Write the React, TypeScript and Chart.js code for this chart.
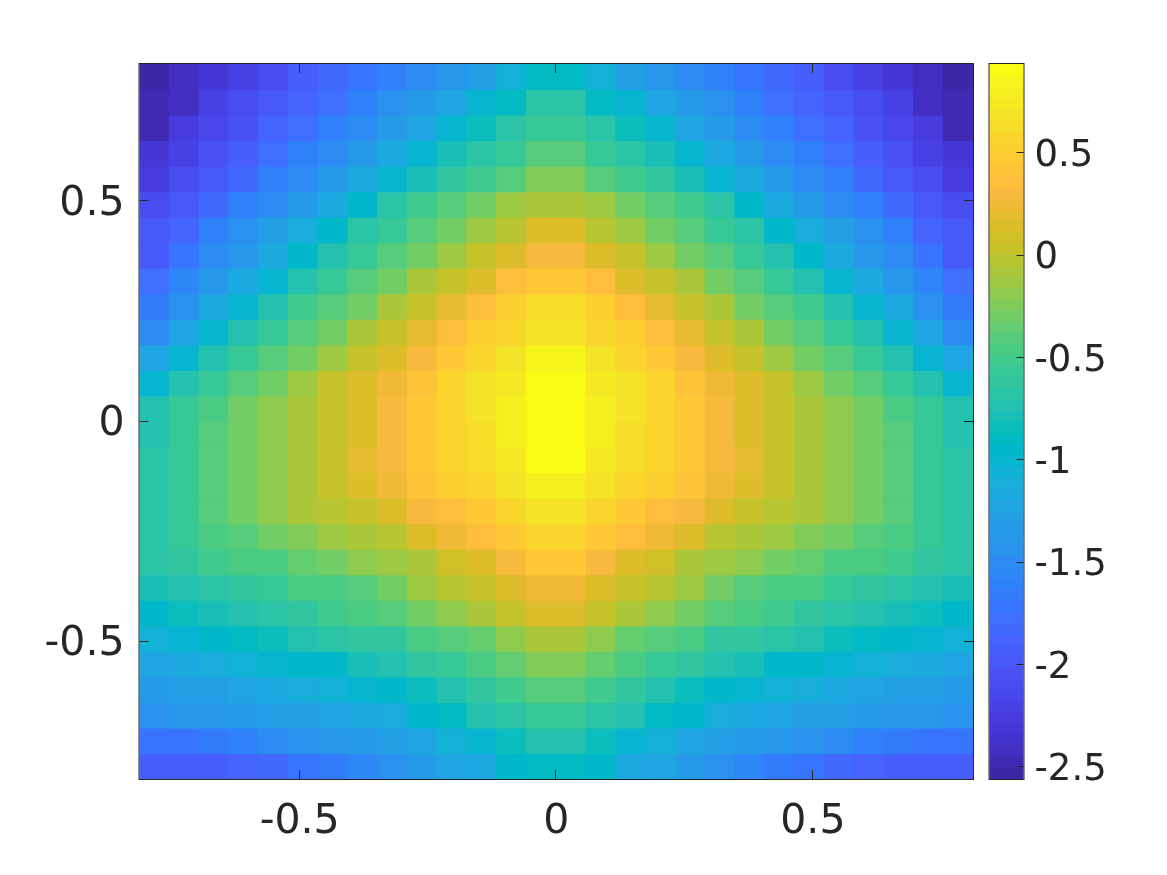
import React, { useEffect, useRef } from "react";
import { Chart, registerables } from "chart.js";

Chart.register(...registerables);

const FONT = "'DejaVu Sans'";
const TEXT = "#262626";

const xTickValues = [-0.5, 0, 0.5];
const yTickValues = [-0.5, 0, 0.5];
const colorbarTickValues = [-2.5, -2, -1.5, -1, -0.5, 0, 0.5];
const colorMin = -2.557;
const colorMax = 0.936;
const cellHalf = 0.029;

const xCenters = [-0.783,-0.725,-0.667,-0.609,-0.551,-0.493,-0.435,-0.377,-0.319,-0.261,-0.203,-0.145,-0.087,-0.029,0.029,0.087,0.145,0.203,0.261,0.319,0.377,0.435,0.493,0.551,0.609,0.667,0.725,0.783];
const yCenters = [0.783,0.725,0.667,0.609,0.551,0.493,0.435,0.377,0.319,0.261,0.203,0.145,0.087,0.029,-0.029,-0.087,-0.145,-0.203,-0.261,-0.319,-0.377,-0.435,-0.493,-0.551,-0.609,-0.667,-0.725,-0.783];

const row01 = [-2.55,-2.42,-2.3,-2.18,-2.07,-1.95,-1.83,-1.73,-1.6,-1.47,-1.36,-1.25,-1.05,-0.9,-0.9,-1.05,-1.25,-1.36,-1.47,-1.6,-1.73,-1.83,-1.95,-2.07,-2.18,-2.3,-2.42,-2.55];
const row02 = [-2.5,-2.4,-2.22,-2.12,-2.0,-1.85,-1.75,-1.58,-1.45,-1.33,-1.2,-1.0,-0.88,-0.7,-0.7,-0.88,-1.0,-1.2,-1.33,-1.45,-1.58,-1.75,-1.85,-2.0,-2.12,-2.22,-2.4,-2.5];
const row03 = [-2.45,-2.28,-2.17,-2.02,-1.9,-1.78,-1.6,-1.48,-1.35,-1.2,-1.0,-0.82,-0.65,-0.58,-0.58,-0.65,-0.82,-1.0,-1.2,-1.35,-1.48,-1.6,-1.78,-1.9,-2.02,-2.17,-2.28,-2.45];
const row04 = [-2.33,-2.2,-2.05,-1.95,-1.78,-1.62,-1.48,-1.35,-1.18,-0.98,-0.78,-0.65,-0.55,-0.42,-0.42,-0.55,-0.65,-0.78,-0.98,-1.18,-1.35,-1.48,-1.62,-1.78,-1.95,-2.05,-2.2,-2.33];
const row05 = [-2.25,-2.1,-1.97,-1.8,-1.62,-1.48,-1.35,-1.18,-0.98,-0.78,-0.62,-0.52,-0.42,-0.25,-0.25,-0.42,-0.52,-0.62,-0.78,-0.98,-1.18,-1.35,-1.48,-1.62,-1.8,-1.97,-2.1,-2.25];
const row06 = [-2.08,-1.98,-1.8,-1.62,-1.48,-1.33,-1.15,-0.95,-0.7,-0.52,-0.42,-0.27,-0.15,-0.05,-0.05,-0.15,-0.27,-0.42,-0.52,-0.7,-0.95,-1.15,-1.33,-1.48,-1.62,-1.8,-1.98,-2.08];
const row07 = [-1.98,-1.85,-1.62,-1.45,-1.3,-1.12,-0.92,-0.7,-0.55,-0.4,-0.28,-0.14,0.0,0.17,0.17,0.0,-0.14,-0.28,-0.4,-0.55,-0.7,-0.92,-1.12,-1.3,-1.45,-1.62,-1.85,-1.98];
const row08 = [-1.98,-1.72,-1.5,-1.37,-1.15,-0.95,-0.75,-0.58,-0.42,-0.27,-0.12,0.03,0.13,0.33,0.33,0.13,0.03,-0.12,-0.27,-0.42,-0.58,-0.75,-0.95,-1.15,-1.37,-1.5,-1.72,-1.98];
const row09 = [-1.78,-1.55,-1.38,-1.15,-0.98,-0.72,-0.55,-0.4,-0.27,-0.08,0.03,0.17,0.35,0.48,0.48,0.35,0.17,0.03,-0.08,-0.27,-0.4,-0.55,-0.72,-0.98,-1.15,-1.38,-1.55,-1.78];
const row10 = [-1.65,-1.45,-1.18,-0.98,-0.72,-0.53,-0.4,-0.27,-0.1,0.04,0.18,0.35,0.5,0.62,0.62,0.5,0.35,0.18,0.04,-0.1,-0.27,-0.4,-0.53,-0.72,-0.98,-1.18,-1.45,-1.65];
const row11 = [-1.5,-1.2,-0.98,-0.72,-0.55,-0.4,-0.27,-0.1,0.03,0.18,0.35,0.5,0.6,0.7,0.7,0.6,0.5,0.35,0.18,0.03,-0.1,-0.27,-0.4,-0.55,-0.72,-0.98,-1.2,-1.5];
const row12 = [-1.22,-1.0,-0.75,-0.55,-0.42,-0.27,-0.12,0.04,0.17,0.33,0.47,0.6,0.7,0.85,0.85,0.7,0.6,0.47,0.33,0.17,0.04,-0.12,-0.27,-0.42,-0.55,-0.75,-1.0,-1.22];
const row13 = [-1.0,-0.75,-0.58,-0.42,-0.27,-0.12,0.04,0.17,0.28,0.43,0.57,0.68,0.75,0.92,0.92,0.75,0.68,0.57,0.43,0.28,0.17,0.04,-0.12,-0.27,-0.42,-0.58,-0.75,-1.0];
const row14 = [-0.75,-0.57,-0.43,-0.28,-0.17,-0.05,0.05,0.17,0.33,0.45,0.58,0.67,0.78,0.93,0.93,0.78,0.67,0.58,0.45,0.33,0.17,0.05,-0.05,-0.17,-0.28,-0.43,-0.57,-0.75];
const row15 = [-0.72,-0.55,-0.42,-0.28,-0.17,-0.05,0.05,0.17,0.33,0.45,0.58,0.66,0.78,0.93,0.93,0.78,0.66,0.58,0.45,0.33,0.17,0.05,-0.05,-0.17,-0.28,-0.42,-0.55,-0.72];
const row16 = [-0.7,-0.55,-0.42,-0.28,-0.18,-0.05,0.06,0.18,0.33,0.46,0.57,0.66,0.75,0.9,0.9,0.75,0.66,0.57,0.46,0.33,0.18,0.06,-0.05,-0.18,-0.28,-0.42,-0.55,-0.7];
const row17 = [-0.68,-0.55,-0.42,-0.28,-0.18,-0.07,0.03,0.13,0.25,0.42,0.52,0.6,0.7,0.82,0.82,0.7,0.6,0.52,0.42,0.25,0.13,0.03,-0.07,-0.18,-0.28,-0.42,-0.55,-0.68];
const row18 = [-0.68,-0.55,-0.42,-0.3,-0.18,-0.1,0.0,0.05,0.13,0.3,0.38,0.47,0.58,0.68,0.68,0.58,0.47,0.38,0.3,0.13,0.05,0.0,-0.1,-0.18,-0.3,-0.42,-0.55,-0.68];
const row19 = [-0.7,-0.57,-0.45,-0.42,-0.3,-0.22,-0.13,-0.05,0.0,0.13,0.27,0.37,0.47,0.58,0.58,0.47,0.37,0.27,0.13,0.0,-0.05,-0.13,-0.22,-0.3,-0.42,-0.45,-0.57,-0.7];
const row20 = [-0.68,-0.6,-0.52,-0.47,-0.43,-0.33,-0.28,-0.2,-0.12,-0.05,0.08,0.17,0.33,0.48,0.48,0.33,0.17,0.08,-0.05,-0.12,-0.2,-0.28,-0.33,-0.43,-0.47,-0.52,-0.6,-0.68];
const row21 = [-0.78,-0.72,-0.68,-0.62,-0.55,-0.47,-0.44,-0.38,-0.28,-0.15,-0.03,0.05,0.17,0.27,0.27,0.17,0.05,-0.03,-0.15,-0.28,-0.38,-0.44,-0.47,-0.55,-0.62,-0.68,-0.72,-0.78];
const row22 = [-0.92,-0.85,-0.8,-0.72,-0.68,-0.6,-0.52,-0.44,-0.38,-0.27,-0.2,-0.08,0.03,0.17,0.17,0.03,-0.08,-0.2,-0.27,-0.38,-0.44,-0.52,-0.6,-0.68,-0.72,-0.8,-0.85,-0.92];
const row23 = [-1.03,-1.0,-0.95,-0.9,-0.82,-0.73,-0.68,-0.62,-0.6,-0.45,-0.4,-0.32,-0.2,-0.08,-0.08,-0.2,-0.32,-0.4,-0.45,-0.6,-0.62,-0.68,-0.73,-0.82,-0.9,-0.95,-1.0,-1.03];
const row24 = [-1.2,-1.18,-1.13,-1.05,-1.0,-0.95,-0.92,-0.8,-0.72,-0.62,-0.55,-0.45,-0.35,-0.25,-0.25,-0.35,-0.45,-0.55,-0.62,-0.72,-0.8,-0.92,-0.95,-1.0,-1.05,-1.13,-1.18,-1.2];
const row25 = [-1.32,-1.3,-1.27,-1.23,-1.17,-1.12,-1.05,-1.0,-0.92,-0.82,-0.72,-0.6,-0.52,-0.42,-0.42,-0.52,-0.6,-0.72,-0.82,-0.92,-1.0,-1.05,-1.12,-1.17,-1.23,-1.27,-1.3,-1.32];
const row26 = [-1.42,-1.4,-1.38,-1.33,-1.3,-1.25,-1.2,-1.15,-1.1,-0.95,-0.9,-0.75,-0.68,-0.55,-0.55,-0.68,-0.75,-0.9,-0.95,-1.1,-1.15,-1.2,-1.25,-1.3,-1.33,-1.38,-1.4,-1.42];
const row27 = [-1.72,-1.7,-1.68,-1.62,-1.5,-1.45,-1.4,-1.33,-1.28,-1.2,-1.08,-1.0,-0.85,-0.72,-0.72,-0.85,-1.0,-1.08,-1.2,-1.28,-1.33,-1.4,-1.45,-1.5,-1.62,-1.68,-1.7,-1.72];
const row28 = [-1.95,-1.95,-1.92,-1.88,-1.8,-1.7,-1.65,-1.55,-1.45,-1.33,-1.2,-1.17,-0.97,-0.88,-0.88,-0.97,-1.17,-1.2,-1.33,-1.45,-1.55,-1.65,-1.7,-1.8,-1.88,-1.92,-1.95,-1.95];
const rows = [row01,row02,row03,row04,row05,row06,row07,row08,row09,row10,row11,row12,row13,row14,row15,row16,row17,row18,row19,row20,row21,row22,row23,row24,row25,row26,row27,row28];

const parula = [
[0.2422,0.1504,0.6603],[0.2504,0.165,0.7076],[0.2578,0.1818,0.7511],[0.2647,0.1978,0.7952],
[0.2706,0.2147,0.8364],[0.2751,0.2342,0.871],[0.2783,0.2559,0.8991],[0.2803,0.2782,0.9221],
[0.2813,0.3006,0.9414],[0.281,0.3228,0.9579],[0.2795,0.3447,0.9717],[0.276,0.3667,0.9829],
[0.2699,0.3892,0.9906],[0.2602,0.4123,0.9952],[0.244,0.4358,0.9988],[0.2206,0.4603,0.9973],
[0.1963,0.4847,0.9892],[0.1834,0.5074,0.9798],[0.1786,0.5289,0.9682],[0.1764,0.5499,0.952],
[0.1687,0.5703,0.9359],[0.154,0.5902,0.9218],[0.146,0.6091,0.9079],[0.138,0.6276,0.8973],
[0.1248,0.6459,0.8883],[0.1113,0.6635,0.8763],[0.0952,0.6798,0.8598],[0.0689,0.6948,0.8394],
[0.0297,0.7082,0.8163],[0.0036,0.7203,0.7917],[0.0067,0.7312,0.766],[0.0433,0.7411,0.7394],
[0.0964,0.75,0.712],[0.1408,0.7584,0.6842],[0.1717,0.767,0.6554],[0.1938,0.7758,0.6251],
[0.2161,0.7843,0.5923],[0.247,0.7918,0.5567],[0.2906,0.7973,0.5188],[0.3406,0.8008,0.4789],
[0.3909,0.8029,0.4354],[0.4456,0.8024,0.3909],[0.5044,0.7993,0.348],[0.5616,0.7942,0.3045],
[0.6174,0.7876,0.2612],[0.672,0.7793,0.2227],[0.7242,0.7698,0.191],[0.7738,0.7598,0.1646],
[0.8203,0.7498,0.1535],[0.8634,0.7406,0.1596],[0.9035,0.733,0.1774],[0.9393,0.7288,0.21],
[0.9728,0.7298,0.2394],[0.9956,0.7434,0.2371],[0.997,0.7659,0.2199],[0.9952,0.7893,0.2028],
[0.9892,0.8136,0.1885],[0.9786,0.8386,0.1766],[0.9676,0.8639,0.1643],[0.961,0.889,0.1537],
[0.9597,0.9135,0.1423],[0.9628,0.9373,0.1265],[0.9691,0.9606,0.1064],[0.9769,0.9839,0.0805],
];

function rgb(i: number) {
  const c = parula[i];
  return `rgb(${Math.round(c[0] * 255)},${Math.round(c[1] * 255)},${Math.round(c[2] * 255)})`;
}
function colorFor(v: number) {
  const i = Math.floor(((v - colorMin) / (colorMax - colorMin)) * parula.length);
  return rgb(Math.max(0, Math.min(parula.length - 1, i)));
}

const mainFrame = {
  id: "mainFrame",
  afterDatasetsDraw(chart: any) {
    const ctx = chart.ctx;
    const a = chart.chartArea;
    const L = 9;
    ctx.save();
    ctx.strokeStyle = TEXT;
    ctx.lineWidth = 1;
    ctx.beginPath();
    xTickValues.forEach((v) => {
      const p = Math.round(chart.scales.x.getPixelForValue(v)) - 0.5;
      ctx.moveTo(p, a.bottom); ctx.lineTo(p, a.bottom - L);
      ctx.moveTo(p, a.top); ctx.lineTo(p, a.top + L);
    });
    yTickValues.forEach((v) => {
      const p = Math.round(chart.scales.y.getPixelForValue(v)) - 0.5;
      ctx.moveTo(a.left, p); ctx.lineTo(a.left + L, p);
      ctx.moveTo(a.right, p); ctx.lineTo(a.right - L, p);
    });
    ctx.stroke();
    ctx.strokeRect(a.left - 0.5, a.top - 0.5, a.right - a.left + 1, a.bottom - a.top + 1);
    ctx.restore();
  },
};

const barFrame = {
  id: "barFrame",
  afterDatasetsDraw(chart: any) {
    const ctx = chart.ctx;
    const a = chart.chartArea;
    ctx.save();
    ctx.strokeStyle = TEXT;
    ctx.lineWidth = 1;
    ctx.beginPath();
    colorbarTickValues.forEach((v) => {
      const p = Math.round(chart.scales.y.getPixelForValue(v)) - 0.5;
      ctx.moveTo(a.right, p); ctx.lineTo(a.right - 7, p);
    });
    ctx.stroke();
    ctx.strokeRect(a.left - 0.5, a.top - 0.5, a.right - a.left + 1, a.bottom - a.top + 1);
    ctx.restore();
  },
};

export default function App() {
  const mainRef = useRef<HTMLCanvasElement | null>(null);
  const barRef = useRef<HTMLCanvasElement | null>(null);

  useEffect(() => {
    document.body.style.margin = "0";
    document.body.style.background = "#fff";
    const tickFont = { family: FONT, size: 41 };
    const barFont = { family: FONT, size: 37 };
    const main = new Chart(mainRef.current as any, {
      type: "bar",
      data: {
        datasets: rows.map((row, r) => ({
          data: row.map((_, c) => ({ x: xCenters[c], y: [yCenters[r] - cellHalf, yCenters[r] + cellHalf] })),
          backgroundColor: row.map(colorFor),
          borderWidth: 0,
          inflateAmount: 0.5,
          grouped: false,
          barPercentage: 1,
          categoryPercentage: 1,
        })),
      } as any,
      plugins: [mainFrame],
      options: {
        responsive: false,
        animation: false,
        layout: { padding: { left: 0, top: 64, right: 194, bottom: 0 } },
        plugins: { legend: { display: false }, tooltip: { enabled: false } },
        scales: {
          x: {
            type: "linear", offset: false, min: -0.812, max: 0.812,
            grid: { display: false, offset: false },
            border: { display: false },
            afterBuildTicks(s: any) { s.ticks = xTickValues.map((value) => ({ value })); },
            afterFit(s: any) { s.height = 96; },
            ticks: { font: tickFont, color: TEXT, padding: 11, maxRotation: 0, autoSkip: false, callback: (v: any) => String(v) },
          },
          y: {
            type: "linear", min: -0.812, max: 0.812,
            grid: { display: false },
            border: { display: false },
            afterBuildTicks(s: any) { s.ticks = yTickValues.map((value) => ({ value })); },
            afterFit(s: any) { s.width = 139.5; },
            ticks: { font: tickFont, color: TEXT, padding: 7, labelOffset: 3, autoSkip: false, callback: (v: any) => String(v) },
          },
        },
      } as any,
    });

    const step = (colorMax - colorMin) / parula.length;
    const bar = new Chart(barRef.current as any, {
      type: "bar",
      data: {
        datasets: [{
          data: parula.map((_, i) => ({ x: [0, 1], y: colorMin + (i + 0.5) * step })),
          backgroundColor: parula.map((_, i) => rgb(i)),
          borderWidth: 0,
          inflateAmount: 0.5,
          barPercentage: 1,
          categoryPercentage: 1,
        }],
      } as any,
      plugins: [barFrame],
      options: {
        indexAxis: "y",
        responsive: false,
        animation: false,
        layout: { padding: { left: 989.5, top: 64, right: 0, bottom: 96 } },
        plugins: { legend: { display: false }, tooltip: { enabled: false } },
        scales: {
          x: { type: "linear", min: 0, max: 1, display: false },
          y: {
            type: "linear", position: "right", offset: false, min: colorMin, max: colorMax,
            grid: { display: false, offset: false },
            border: { display: false },
            afterBuildTicks(s: any) { s.ticks = colorbarTickValues.map((value) => ({ value })); },
            afterFit(s: any) { s.width = 143.5; },
            ticks: { font: barFont, color: TEXT, padding: 3, labelOffset: 3, autoSkip: false, callback: (v: any) => String(v) },
          },
        },
      } as any,
    });
    return () => { main.destroy(); bar.destroy(); };
  }, []);

  const fill: React.CSSProperties = { position: "absolute", left: 0, top: 0, display: "block" };
  return (
    <div style={{ position: "absolute", left: 0, top: 0, width: 1167, height: 875, overflow: "hidden", background: "#fff" }}>
      <canvas ref={mainRef} width={1167} height={875} style={fill} />
      <canvas ref={barRef} width={1167} height={875} style={fill} />
    </div>
  );
}
